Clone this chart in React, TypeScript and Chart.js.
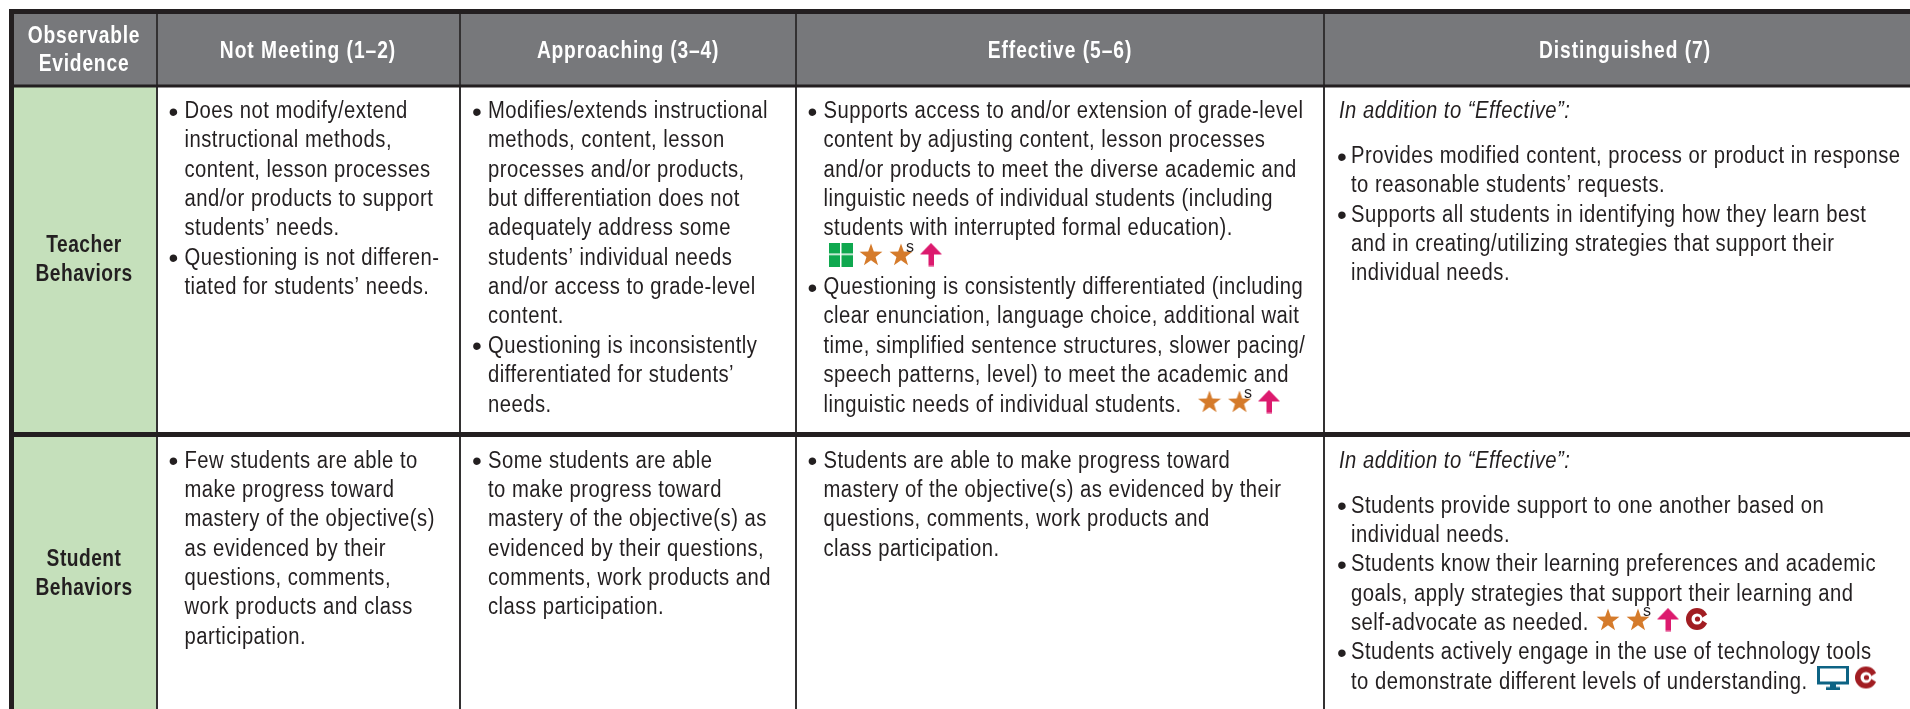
import React, { useEffect, useRef } from "react";
import { Chart, registerables } from "chart.js";
Chart.register(...registerables);

// ---- table content ----
const rowTitles = [["Teacher", "Behaviors"], ["Student", "Behaviors"]];
const cornerTitle = ["Observable", "Evidence"];
const columnTitles = ["Not Meeting (1–2)", "Approaching (3–4)", "Effective (5–6)", "Distinguished (7)"];
const introText = "In addition to “Effective”:";

const teacherNotMeeting = [
  ["Does not modify/extend", "instructional methods,", "content, lesson processes", "and/or products to support", "students’ needs."],
  ["Questioning is not differen-", "tiated for students’ needs."],
];
const teacherApproaching = [
  ["Modifies/extends instructional", "methods, content, lesson", "processes and/or products,", "but differentiation does not", "adequately address some", "students’ individual needs", "and/or access to grade-level", "content."],
  ["Questioning is inconsistently", "differentiated for students’", "needs."],
];
const teacherEffective = [
  ["Supports access to and/or extension of grade-level", "content by adjusting content, lesson processes", "and/or products to meet the diverse academic and", "linguistic needs of individual students (including", "students with interrupted formal education).", ""],
  ["Questioning is consistently differentiated (including", "clear enunciation, language choice, additional wait", "time, simplified sentence structures, slower pacing/", "speech patterns, level) to meet the academic and", "linguistic needs of individual students."],
];
const teacherDistinguished = [
  ["Provides modified content, process or product in response", "to reasonable students’ requests."],
  ["Supports all students in identifying how they learn best", "and in creating/utilizing strategies that support their", "individual needs."],
];
const studentNotMeeting = [
  ["Few students are able to", "make progress toward", "mastery of the objective(s)", "as evidenced by their", "questions, comments,", "work products and class", "participation."],
];
const studentApproaching = [
  ["Some students are able", "to make progress toward", "mastery of the objective(s) as", "evidenced by their questions,", "comments, work products and", "class participation."],
];
const studentEffective = [
  ["Students are able to make progress toward", "mastery of the objective(s) as evidenced by their", "questions, comments, work products and", "class participation."],
];
const studentDistinguished = [
  ["Students provide support to one another based on", "individual needs."],
  ["Students know their learning preferences and academic", "goals, apply strategies that support their learning and", "self-advocate as needed."],
  ["Students actively engage in the use of technology tools", "to demonstrate different levels of understanding."],
];

// ---- icon markers, in table coordinates ----
const gridIcons = [{ x: 841, y: 254.5 }];
const starIcons = [{ x: 871, y: 255 }, { x: 901, y: 255 }, { x: 1209.5, y: 402 }, { x: 1239.5, y: 402 }, { x: 1608, y: 620 }, { x: 1638, y: 620 }];
const sMarks = [{ x: 910, y: 251.5 }, { x: 1248, y: 398 }, { x: 1647, y: 616 }];
const arrowIcons = [{ x: 931, y: 254.5 }, { x: 1269, y: 401.5 }, { x: 1668, y: 619.5 }];
const cIcons = [{ x: 1697, y: 619 }, { x: 1866, y: 677.5 }];
const monitorIcons = [{ x: 1833, y: 677.5 }];

// ---- layout ----
const W = 1910, H = 709;
const colLines = [157, 460, 796, 1324];
const textX = [184.5, 488, 823.5, 1351];
const bulletX = [173.5, 477, 812.5, 1342];
const headerCenters = [308, 628, 1060, 1625];
const headerSpacing = ["1.2px", "1px", "1.2px", "1.2px"];
const rowBase = [118, 467.5];
const LH = 29.35;
const BODY = '23px "Liberation Sans"';
const BULLET = '28px "Liberation Sans"';
const HEAD = 'bold 24px "Liberation Sans"';
const BODY_STRETCH = 0.88;
const BODY_SPACING = "0.55px";
const HEAD_STRETCH = 0.8;
const INK = "#231f20";

const cells = [
  [teacherNotMeeting, teacherApproaching, teacherEffective, teacherDistinguished],
  [studentNotMeeting, studentApproaching, studentEffective, studentDistinguished],
];

function icon(w: number, h: number, draw: (c: CanvasRenderingContext2D) => void) {
  const cv = document.createElement("canvas");
  cv.width = w; cv.height = h;
  draw(cv.getContext("2d")!);
  return cv;
}
function starPath(c: CanvasRenderingContext2D, cx: number, cy: number, R: number, r: number) {
  c.beginPath();
  for (let i = 0; i < 10; i++) {
    const a = -Math.PI / 2 + (i * Math.PI) / 5;
    const q = i % 2 ? r : R;
    c.lineTo(cx + q * Math.cos(a), cy + q * Math.sin(a));
  }
  c.closePath();
}

export default function App() {
  const ref = useRef<HTMLCanvasElement>(null);
  useEffect(() => {
    const gridImg = icon(24, 24, (c) => {
      c.fillStyle = "#0fa84f"; c.fillRect(0, 0, 24, 24);
      c.fillStyle = "#fff"; c.fillRect(11, 0, 1.5, 24); c.fillRect(0, 11, 24, 1.5);
    });
    const starImg = icon(24, 24, (c) => {
      c.fillStyle = "#d57b2b"; starPath(c, 12, 12.5, 12, 4.8); c.fill();
    });
    const arrowImg = icon(24, 24, (c) => {
      c.fillStyle = "#dc1a6e";
      c.beginPath(); c.moveTo(12, 0.5); c.lineTo(23, 12); c.lineTo(15, 12); c.lineTo(15, 23.5); c.lineTo(9.5, 23.5); c.lineTo(9.5, 12); c.lineTo(1, 12); c.closePath(); c.fill();
    });
    const cImg = icon(22, 24, (c) => {
      c.fillStyle = "#a11d22";
      c.beginPath(); c.arc(11, 12, 11, 0, Math.PI * 2); c.fill();
      c.globalCompositeOperation = "destination-out";
      c.beginPath(); c.arc(11, 12, 5.5, 0, Math.PI * 2); c.fill();
      c.beginPath(); c.moveTo(14, 12); c.lineTo(22, 7); c.lineTo(22, 17); c.closePath(); c.fill();
      c.globalCompositeOperation = "source-over";
      c.fillStyle = "#a11d22"; c.beginPath(); c.arc(11.5, 12, 2.6, 0, Math.PI * 2); c.fill();
    });
    const monitorImg = icon(32, 24, (c) => {
      c.strokeStyle = "#0d6384"; c.lineWidth = 3; c.strokeRect(1.5, 1.5, 29, 16);
      c.fillStyle = "#0d6384"; c.fillRect(13, 18, 6, 4); c.fillRect(9, 21.5, 14, 2.5);
    });

    const line = (points: { x: number; y: number }[], color: string, width: number, fill: any = false) => ({
      type: "scatter" as const, showLine: true, data: points, borderColor: color, borderWidth: width,
      backgroundColor: color, pointRadius: 0, fill, tension: 0, clip: false,
    });
    const marks = (points: { x: number; y: number }[], img: HTMLCanvasElement) => ({
      type: "scatter" as const, data: points, pointStyle: img as any, pointRadius: 12, clip: false,
    });

    const tablePlugin = {
      id: "tableText",
      afterDatasetsDraw(chart: any) {
        const { ctx, scales: { x: sx, y: sy } } = chart;
        const put = (s: string, x: number, y: number, font: string, color: string, stretch: number, align: CanvasTextAlign = "left", sp = "0px") => {
          ctx.save();
          ctx.translate(sx.getPixelForValue(x), sy.getPixelForValue(y));
          ctx.scale(stretch, 1);
          ctx.font = font; ctx.fillStyle = color; ctx.textAlign = align; ctx.textBaseline = "alphabetic";
          (ctx as any).letterSpacing = sp;
          ctx.fillText(s, 0, 0);
          ctx.restore();
        };
        ctx.save();
        put(cornerTitle[0], 84, 43, HEAD, "#fff", HEAD_STRETCH, "center", "1px");
        put(cornerTitle[1], 84, 71, HEAD, "#fff", HEAD_STRETCH, "center", "1px");
        columnTitles.forEach((t, i) => put(t, headerCenters[i], 58, HEAD, "#fff", HEAD_STRETCH, "center", headerSpacing[i]));
        const rowMid = [252, 566];
        rowTitles.forEach((r, i) => {
          put(r[0], 84, rowMid[i], HEAD, INK, HEAD_STRETCH, "center", "0.6px");
          put(r[1], 84, rowMid[i] + 29, HEAD, INK, HEAD_STRETCH, "center", "0.6px");
        });
        cells.forEach((row, ri) => row.forEach((cell, ci) => {
          let y = rowBase[ri];
          if (ci === 3) {
            put(introText, 1339, y, "italic " + BODY, INK, BODY_STRETCH, "left", BODY_SPACING);
            y += 45;
          }
          cell.forEach((para) => {
            put("•", bulletX[ci], y + 2.5, BULLET, INK, 1, "center");
            para.forEach((ln) => { if (ln) put(ln, textX[ci], y, BODY, INK, BODY_STRETCH, "left", BODY_SPACING); y += LH; });
          });
        }));
        sMarks.forEach((m) => put("s", m.x, m.y, '16px "Liberation Sans"', INK, 1, "center"));
        ctx.restore();
      },
    };

    const chart = new Chart(ref.current!, {
      type: "scatter",
      data: {
        datasets: [
          marks(gridIcons, gridImg),
          marks(starIcons, starImg),
          marks(arrowIcons, arrowImg),
          marks(cIcons, cImg),
          marks(monitorIcons, monitorImg),
          line([{ x: 9, y: 11.5 }, { x: W, y: 11.5 }], INK, 5),
          line([{ x: 11.5, y: 9 }, { x: 11.5, y: H }], INK, 5),
          line([{ x: 9, y: 86 }, { x: W, y: 86 }], INK, 3),
          line([{ x: 9, y: 434.5 }, { x: W, y: 434.5 }], INK, 5),
          ...colLines.map((x) => line([{ x, y: 9 }, { x, y: H }], "#333132", 2)),
          line([{ x: 14, y: 14 }, { x: W, y: 14 }], "#77787b", 0, { value: 85 }),
          line([{ x: 14, y: 87 }, { x: 156, y: 87 }], "#c5e0bb", 0, { value: H }),
        ] as any,
      },
      plugins: [tablePlugin],
      options: {
        animation: false,
        responsive: false,
        layout: { padding: 0, autoPadding: false },
        plugins: { legend: { display: false }, tooltip: { enabled: false } },
        scales: {
          x: { type: "linear", min: 0, max: W, display: false },
          y: { type: "linear", min: 0, max: H, reverse: true, display: false },
        },
      },
    });
    return () => chart.destroy();
  }, []);
  return (
    <div style={{ position: "absolute", left: 0, top: 0, width: W, height: H, background: "#fff" }}>
      <canvas ref={ref} width={W} height={H} style={{ display: "block" }} />
    </div>
  );
}
